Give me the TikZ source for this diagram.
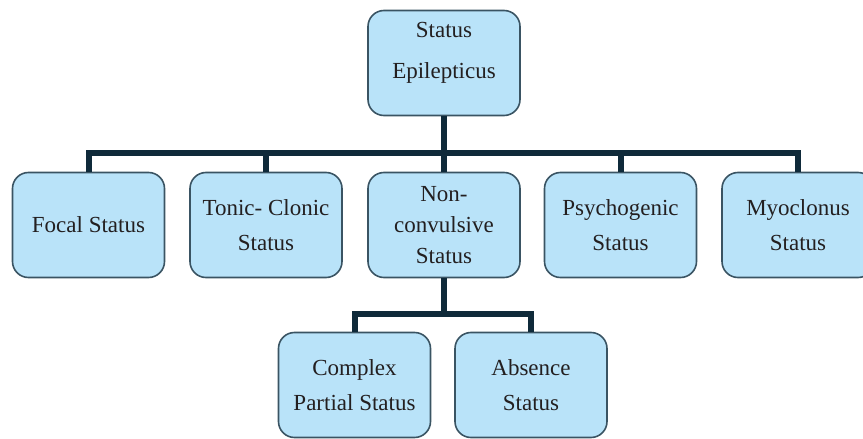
\documentclass[tikz,border=0pt]{standalone}
\usepackage{fontspec}
\setmainfont{Liberation Serif}
\usetikzlibrary{math}
\definecolor{boxfill}{HTML}{B9E3F9}
\definecolor{boxline}{HTML}{3A5463}
\definecolor{linkcol}{HTML}{0F2A3A}
\definecolor{txtcol}{HTML}{231F20}

\begin{document}
\begin{tikzpicture}[x=1pt,y=-1pt,
    box/.style={draw=boxline, line width=1.6pt, fill=boxfill, rounded corners=16pt,
      minimum width=152pt, minimum height=105pt, align=center, text=txtcol,
      font=\fontsize{23}{35}\selectfont},
    link/.style={draw=linkcol, line width=6pt}]
  \clip (0,0) rectangle (863,439);
  \tikzmath{\ya = 63; \yb = 225; \yc = 385; \bara = 153; \barb = 314;}

  % top level (text sits a bit high in its box)
  \node[box, font=\fontsize{23}{41}\selectfont] (se) at (444,\ya)
    {\raisebox{7pt}[0pt][0pt]{\begin{tabular}[c]{@{}c@{}}Status\\Epilepticus\end{tabular}}};

  % second row
  \node[box] (focal) at (88.5,\yb) {Focal Status};
  \node[box] (tonic) at (266,\yb) {Tonic- Clonic\\Status};
  \node[box, font=\fontsize{23}{31}\selectfont] (nonc) at (444,\yb) {Non-\\convulsive\\Status};
  \node[box] (psych) at (620.5,\yb) {Psychogenic\\Status};
  \node[box] (myo) at (798,\yb) {Myoclonus\\Status};

  % third row
  \node[box] (cps) at (354.5,\yc) {Complex\\Partial Status};
  \node[box] (abs) at (531,\yc) {Absence\\Status};

  % connectors
  \coordinate (ja) at (444,\bara);
  \coordinate (jb) at (444,\barb);
  \draw[link] (se.south) -- (ja);
  \draw[link] (focal.north) |- (ja) -| (myo.north);
  \foreach \n in {tonic, nonc, psych}
    \draw[link] (\n.north) -- (\n.north |- ja);
  \draw[link] (nonc.south) -- (jb);
  \draw[link] (cps.north) |- (jb) -| (abs.north);
\end{tikzpicture}
\end{document}
